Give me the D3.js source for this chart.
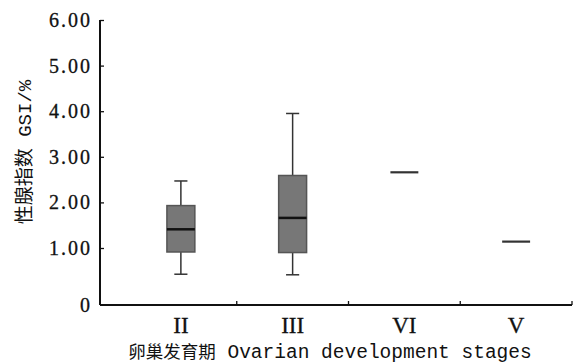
<!DOCTYPE html>
<html><head><meta charset="utf-8">
<script src="https://cdn.jsdelivr.net/npm/d3@7"></script>
<style>
html,body{margin:0;padding:0;background:#fff;}
svg{display:block;}
</style>
</head><body>
<script>
// ---- data ----
const stages = ["II", "III", "VI", "V"];
const whiskerMin = [0.54, 0.53, 2.66, 1.14];
const q1 = [0.93, 0.92, 2.66, 1.14];
const median = [1.41, 1.66, 2.66, 1.14];
const q3 = [1.93, 2.59, 2.66, 1.14];
const whiskerMax = [2.47, 3.95, 2.66, 1.14];
const yTicks = [0, 1, 2, 3, 4, 5, 6];
const yTickLabels = ["0", "1.00", "2.00", "3.00", "4.00", "5.00", "6.00"];
const yTitleCN = "性腺指数";
const yTitleEN = " GSI/%";
const xTitleCN = "卵巢发育期";
const xTitleEN = " Ovarian development stages";

const W = 574, H = 363;
const svg = d3.select("body").append("svg").attr("width", W).attr("height", H);

const axisX0 = 100, axisX1 = 572, axisYTop = 20, axisYBottom = 305;
// bottom segment (0-1) is stretched as in the original figure
const y = d3.scaleLinear().domain([0, 1, 6]).range([axisYBottom, 248, axisYTop]);
const x = d3.scaleBand().domain(stages).range([125, axisX1]).paddingInner(0).paddingOuter(0);

const mono = "'Liberation Mono', 'DejaVu Sans Mono', monospace";
const serif = "'Liberation Serif', 'Times New Roman', serif";
const cjk = "'Noto Sans CJK SC', sans-serif";

// y axis
const yAxis = d3.axisLeft(y).tickValues(yTicks).tickSize(-4).tickPadding(8)
  .tickFormat((d, i) => yTickLabels[i]);
const gy = svg.append("g").attr("transform", `translate(${axisX0},0)`).call(yAxis);
gy.select(".domain").remove();
gy.selectAll(".tick line").attr("stroke", "#111").attr("stroke-width", 1.3);
gy.selectAll(".tick text").attr("font-family", serif).attr("font-size", 20)
  .attr("letter-spacing", 2).attr("fill", "#111").attr("stroke", "#111").attr("stroke-width", 0.3);
gy.selectAll(".tick").filter(d => d === 0).select("line").remove();
svg.append("line").attr("x1", axisX0).attr("x2", axisX0).attr("y1", axisYTop).attr("y2", axisYBottom)
  .attr("stroke", "#111").attr("stroke-width", 2);

// x axis
const xAxis = d3.axisBottom(x).tickSize(0).tickPadding(12);
const gx = svg.append("g").attr("transform", `translate(0,${axisYBottom})`).call(xAxis);
gx.select(".domain").remove();
gx.selectAll(".tick text").attr("font-family", serif).attr("font-size", 23).attr("fill", "#111")
  .attr("stroke", "#111").attr("stroke-width", 0.3);
svg.append("line").attr("x1", axisX0).attr("x2", axisX1).attr("y1", axisYBottom).attr("y2", axisYBottom)
  .attr("stroke", "#111").attr("stroke-width", 2);
// inward ticks at band boundaries
svg.append("g").selectAll("line").data(stages).join("line")
  .attr("x1", d => x(d) + x.bandwidth()).attr("x2", d => x(d) + x.bandwidth())
  .attr("y1", axisYBottom).attr("y2", axisYBottom - 4)
  .attr("stroke", "#111").attr("stroke-width", 1.3);

// boxes
const bw = x.bandwidth() * 0.25;
const capW = bw * 0.47;
const g = svg.append("g");
stages.forEach((s, i) => {
  const cx = x(s) + x.bandwidth() / 2;
  if (q3[i] > q1[i]) {
    g.append("line").attr("x1", cx).attr("x2", cx).attr("y1", y(whiskerMax[i])).attr("y2", y(q3[i]))
      .attr("stroke", "#333").attr("stroke-width", 1.5);
    g.append("line").attr("x1", cx).attr("x2", cx).attr("y1", y(q1[i])).attr("y2", y(whiskerMin[i]))
      .attr("stroke", "#333").attr("stroke-width", 1.5);
    g.append("line").attr("x1", cx - capW / 2).attr("x2", cx + capW / 2).attr("y1", y(whiskerMax[i])).attr("y2", y(whiskerMax[i]))
      .attr("stroke", "#333").attr("stroke-width", 1.5);
    g.append("line").attr("x1", cx - capW / 2).attr("x2", cx + capW / 2).attr("y1", y(whiskerMin[i])).attr("y2", y(whiskerMin[i]))
      .attr("stroke", "#333").attr("stroke-width", 1.5);
    g.append("rect").attr("x", cx - bw / 2).attr("width", bw)
      .attr("y", y(q3[i])).attr("height", y(q1[i]) - y(q3[i]))
      .attr("fill", "#777").attr("stroke", "#555").attr("stroke-width", 1.5);
    g.append("line").attr("x1", cx - bw / 2).attr("x2", cx + bw / 2).attr("y1", y(median[i])).attr("y2", y(median[i]))
      .attr("stroke", "#111").attr("stroke-width", 2.5);
  } else {
    g.append("line").attr("x1", cx - bw / 2).attr("x2", cx + bw / 2).attr("y1", y(median[i])).attr("y2", y(median[i]))
      .attr("stroke", "#333").attr("stroke-width", 2.2);
  }
});

// y title
const yt = svg.append("text").attr("transform", "translate(31,152) rotate(-90)")
  .attr("text-anchor", "middle").attr("fill", "#111");
yt.append("tspan").attr("font-family", cjk).attr("font-size", 19).text(yTitleCN);
yt.append("tspan").attr("font-family", mono).attr("font-size", 19).text(yTitleEN);

// x title
const xt = svg.append("text").attr("x", 330).attr("y", 358)
  .attr("text-anchor", "middle").attr("fill", "#111");
xt.append("tspan").attr("font-family", cjk).attr("font-size", 17.5).text(xTitleCN);
xt.append("tspan").attr("font-family", mono).attr("font-size", 19.5).text(xTitleEN);
</script>
</body></html>
